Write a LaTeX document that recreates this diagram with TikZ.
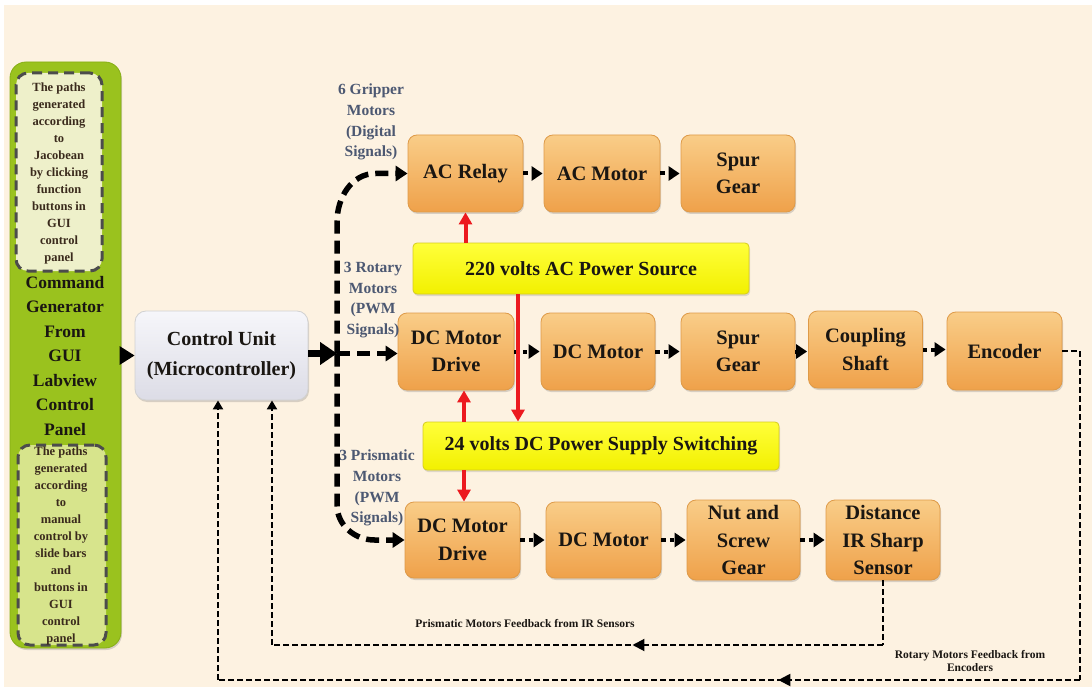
\documentclass[tikz,border=0pt]{standalone}
\usepackage{fontspec}
\setmainfont{Liberation Serif}[BoldFont={Liberation Serif Bold}]
\usetikzlibrary{arrows.meta,calc,shadows,decorations.markings}
\definecolor{bgc}{HTML}{FDF2E1}
\definecolor{otop}{HTML}{F9CD88}
\definecolor{obot}{HTML}{EFA14A}
\definecolor{obord}{HTML}{DE9A48}
\definecolor{ytop}{HTML}{FFFF3A}
\definecolor{ybot}{HTML}{F2F000}
\definecolor{ybord}{HTML}{D6CC20}
\definecolor{gpan}{HTML}{9AC21E}
\definecolor{gbord}{HTML}{86AE14}
\definecolor{inA}{HTML}{EEF0CA}
\definecolor{inB}{HTML}{D7E48C}
\definecolor{lblc}{HTML}{4C5872}
\definecolor{redc}{HTML}{EC1A1F}
\definecolor{txtc}{HTML}{1A1612}
\definecolor{intxt}{HTML}{3A2A1C}
\definecolor{cutop}{HTML}{F6F6FA}
\definecolor{cubot}{HTML}{DCDCE6}
\tikzset{
  x=1pt, y=-1pt,
  obox/.style={rounded corners=9pt, draw=obord, line width=0.8pt, top color=otop, bottom color=obot,
    align=center, inner sep=0pt, text=txtc,
    font=\fontsize{20.5}{27.5}\selectfont\bfseries,
    drop shadow={shadow xshift=1pt, shadow yshift=-2pt, opacity=0.25, fill=black!60}},
  ybox/.style={rounded corners=4pt, draw=ybord, line width=0.8pt, top color=ytop, bottom color=ybot,
    align=center, inner sep=0pt, text=txtc, font=\fontsize{20}{24}\selectfont\bfseries,
    drop shadow={shadow xshift=1pt, shadow yshift=-2pt, opacity=0.2, fill=black!60}},
  cubox/.style={rounded corners=11pt, draw=black!18, line width=0.8pt, top color=cutop, bottom color=cubot,
    align=center, inner sep=0pt, text=txtc, font=\fontsize{20}{30}\selectfont\bfseries,
    drop shadow={shadow xshift=1pt, shadow yshift=-2pt, opacity=0.25, fill=black!60}},
  lbl/.style={align=center, text=lblc, font=\fontsize{15.5}{20.8}\selectfont\bfseries, inner sep=0pt},
  intext/.style={align=center, text=intxt, font=\fontsize{12.5}{17}\selectfont\bfseries, inner sep=0pt},
  dotarr/.style={line width=4pt, dash pattern=on 4.5pt off 4pt, -{Triangle[length=11pt,width=14pt]}, shorten >=1pt},
  busline/.style={line width=5.5pt, dash pattern=on 13pt off 7pt},
  busarr/.style={busline, -{Triangle[length=12pt,width=15pt]}},
  redarr/.style={draw=redc, line width=4pt, -{Triangle[length=12pt,width=13pt]}},
  fb/.style={line width=2pt, dash pattern=on 6pt off 3pt},
  fbarr/.style={fb, -{Triangle[length=9pt,width=10pt]}},
  midarr/.style={decoration={markings, mark=at position #1 with {\arrow{Triangle[length=12pt,width=12pt]}}}, postaction={decorate}},
  fblbl/.style={align=center, text=txtc, font=\fontsize{11.5}{13}\selectfont\bfseries, inner sep=0pt},
}
\begin{document}
\begin{tikzpicture}
\useasboundingbox (0,0) rectangle (1092,687);
\fill[white] (0,0) rectangle (1092,687);
\fill[bgc] (4,5) rectangle (1092,687);

% Green panel
\node[draw=gbord, line width=0.8pt, fill=gpan, rounded corners=16pt, minimum width=111pt, minimum height=586pt, inner sep=0pt,
  drop shadow={shadow xshift=1pt, shadow yshift=-2pt, opacity=0.25, fill=black!60}] (gp) at (65.5,355) {};
\node[draw=black!70, line width=3pt, dash pattern=on 10pt off 6pt, fill=inA, rounded corners=12pt,
  minimum width=86pt, minimum height=198pt, inner sep=0pt] (ib1) at (59,172) {};
\node[draw=black!70, line width=3pt, dash pattern=on 10pt off 6pt, fill=inB, rounded corners=12pt,
  minimum width=88pt, minimum height=200pt, inner sep=0pt] (ib2) at (62,545) {};
\node[intext] (t1) at (59,173) {The paths\\generated\\according\\to\\Jacobean\\by clicking\\function\\buttons in\\GUI\\control\\panel};
\node[intext] (t2) at (61,546) {The paths\\generated\\according\\to\\manual\\control by\\slide bars\\and\\buttons in\\GUI\\control\\panel};
\node[align=center, text=txtc, font=\fontsize{17.5}{24.5}\selectfont\bfseries, inner sep=0pt] (cg) at (65,356)
  {Command\\Generator\\From\\GUI\\Labview\\Control\\Panel};

% Control unit
\node[cubox, minimum width=173pt, minimum height=89pt] (cu) at (221.5,355.5) {Control Unit\\(Microcontroller)};
\draw[line width=3pt, -{Triangle[length=15pt,width=18pt]}] (gp.east |- cu.west) -- (cu.west);

% Row 1
\node[obox, minimum width=115pt, minimum height=77pt] (acr) at (465.5,173.5) {AC Relay};
\node[obox, minimum width=116pt, minimum height=77pt] (acm) at (602,173.5) {AC Motor};
\node[obox, minimum width=114pt, minimum height=77pt] (sg1) at (738,173.5) {Spur\\Gear};
% Row 2
\node[obox, minimum width=116pt, minimum height=77pt] (dcd) at (456,351.5) {DC Motor\\Drive};
\node[obox, minimum width=114pt, minimum height=77pt] (dcm) at (598,351.5) {DC Motor};
\node[obox, minimum width=114pt, minimum height=77pt] (sg2) at (738,351.5) {Spur\\Gear};
\node[obox, minimum width=114pt, minimum height=77pt] (cs) at (865.5,349.5) {Coupling\\Shaft};
\node[obox, minimum width=115pt, minimum height=78pt] (enc) at (1004.5,351) {Encoder};
% Row 3
\node[obox, minimum width=115pt, minimum height=76pt] (dcd2) at (462.5,540) {DC Motor\\Drive};
\node[obox, minimum width=115pt, minimum height=76pt] (dcm2) at (603.5,540) {DC Motor};
\node[obox, minimum width=113pt, minimum height=80pt] (nut) at (743.5,540) {Nut and\\Screw\\Gear};
\node[obox, minimum width=114pt, minimum height=80pt] (dist) at (883,540) {Distance\\IR Sharp\\Sensor};

% Yellow boxes
\node[ybox, minimum width=336pt, minimum height=51pt] (y220) at (581,268.5) {220 volts AC Power Source};
\node[ybox, minimum width=356pt, minimum height=48pt] (y24) at (601,446) {24 volts DC Power Supply Switching};

% labels
\node[lbl] (l1) at (371,122) {6 Gripper\\Motors\\(Digital\\Signals)};
\node[lbl] (l2) at (373,300) {3 Rotary\\Motors\\(PWM\\Signals)};
\node[lbl] (l3) at (377,488) {3 Prismatic\\Motors\\(PWM\\Signals)};

% bus
\coordinate (bus) at (337,353.5);
\coordinate (bustop) at (337,222);
\coordinate (busbot) at (337,505);
\draw[line width=7pt, -{Triangle[length=17pt,width=22pt]}] (cu.east |- bus) -- (bus);
\draw[busarr] (bus) -- (bustop) to[out=90,in=180] ($(acr.west)+(-32,0)$) -- (acr.west);
\draw[busarr] (bus) -- (dcd.west |- bus);
\draw[busarr] (bus) -- (busbot) to[out=-90,in=180] ($(dcd2.west)+(-30,0)$) -- (dcd2.west);

% dotted chains
\draw[dotarr] (acr.east) -- (acm.west);
\draw[dotarr] (acm.east) -- (sg1.west);
\draw[dotarr] (dcd.east) -- (dcm.west);
\draw[dotarr] (dcm.east) -- (sg2.west);
\draw[dotarr] (sg2.east) -- (cs.west |- sg2.east);
\draw[dotarr] (cs.east) -- (enc.west |- cs.east);
\draw[dotarr] (dcd2.east) -- (dcm2.west);
\draw[dotarr] (dcm2.east) -- (nut.west);
\draw[dotarr] (nut.east) -- (dist.west);

% red arrows
\coordinate (rx) at (518,0);
\coordinate (rx2) at (464,0);
\draw[redarr] (y220.north -| acr.south) -- (acr.south);
\draw[redarr] (y220.south -| rx) -- (y24.north -| rx);
\draw[redarr] (y24.north -| rx2) -- (dcd.south -| rx2);
\draw[redarr] (y24.south -| rx2) -- (dcd2.north -| rx2);

% feedback: prismatic
\coordinate (p1) at (883,645);
\coordinate (p2) at (272,645);
\draw[fb] (dist.south) -- (p1);
\draw[fb, midarr=0.41] (p1) -- (p2);
\draw[fbarr] (p2) -- (p2 |- cu.south);
\node[fblbl] (pl) at (525,624) {Prismatic Motors Feedback from IR Sensors};

% feedback: rotary
\coordinate (r1) at (1080,351);
\coordinate (r2) at (1080,680);
\coordinate (r3) at (218,680);
\draw[fb] (enc.east) -- (r1) -- (r2);
\draw[fb, midarr=0.35] (r2) -- (r3);
\draw[fbarr] (r3) -- (r3 |- cu.south);
\node[fblbl] (rl) at (970,661) {Rotary Motors Feedback from\\Encoders};
\end{tikzpicture}
\end{document}
